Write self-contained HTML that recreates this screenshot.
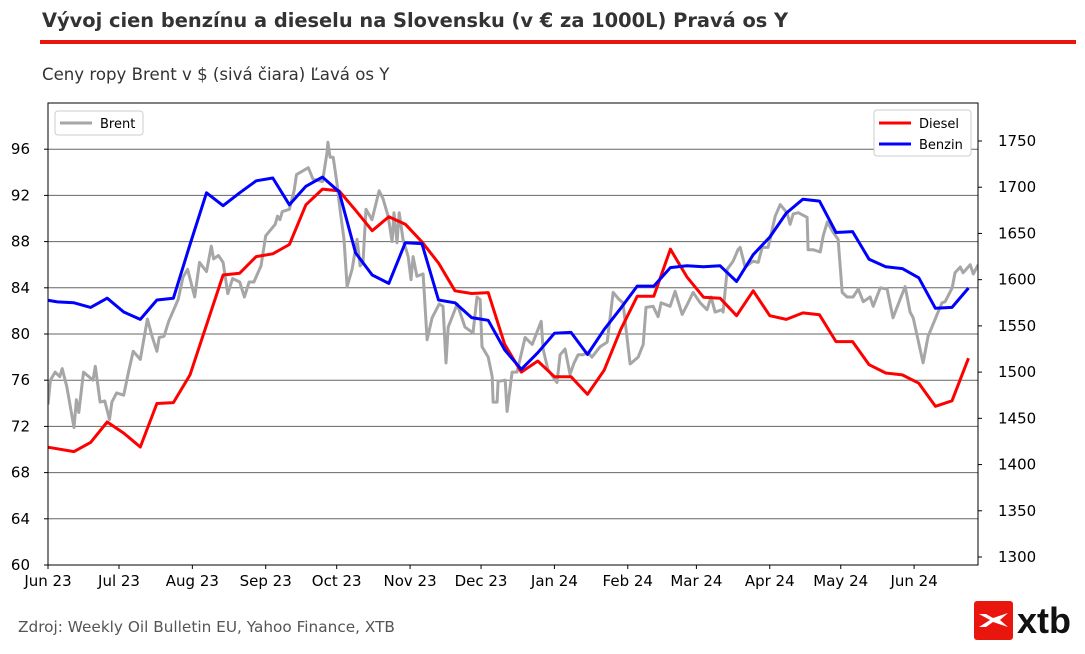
<!DOCTYPE html>
<html><head><meta charset="utf-8">
<style>
body{margin:0;background:#fff;width:1085px;height:650px;overflow:hidden;font-family:"DejaVu Sans","Liberation Sans",sans-serif;}
</style></head>
<body>
<svg id="chart" width="1085" height="650" viewBox="0 0 1085 650" xmlns="http://www.w3.org/2000/svg">
<text x="42" y="27" font-size="19.4" font-weight="bold" fill="#333" font-family="DejaVu Sans, sans-serif">Vývoj cien benzínu a dieselu na Slovensku (v € za 1000L) Pravá os Y</text>
<rect x="40" y="40" width="1036" height="4" fill="#e8160c"/>
<text x="42" y="80" font-size="16.6" fill="#333" font-family="DejaVu Sans, sans-serif">Ceny ropy Brent v $ (sivá čiara) Ľavá os Y</text>
<text x="18" y="632" font-size="15.3" fill="#555" font-family="DejaVu Sans, sans-serif">Zdroj: Weekly Oil Bulletin EU, Yahoo Finance, XTB</text>
<g>
<rect x="974" y="601" width="39" height="39" rx="3" fill="#e8160c"/>
<path d="M979 614 L990 620 L979 627 L986 627 L993 622 L1008 627 L1000 620 L1008 613 L993 618 L986 614 Z" fill="#fff"/>
<text x="1017" y="633" font-size="36" font-weight="bold" fill="#111" font-family="Liberation Sans, sans-serif">xtb</text>
</g>
<defs><clipPath id="plotclip"><rect x="48" y="103" width="930" height="462"/></clipPath></defs>
<g id="grid"></g>
<g id="series" clip-path="url(#plotclip)"></g>
<rect x="48" y="103" width="930" height="462" fill="none" stroke="#000" stroke-width="1"/>
<g id="axes"></g>
<g>
<rect x="55" y="111" width="88" height="24" rx="3" fill="#fff" stroke="#ccc"/>
<line x1="60" y1="123" x2="92" y2="123" stroke="#a6a6a6" stroke-width="3"/>
<text x="100" y="128" font-size="13" fill="#000">Brent</text>
</g>
<g>
<rect x="874" y="110" width="97" height="46" rx="3" fill="#fff" stroke="#ccc"/>
<line x1="879" y1="123" x2="911" y2="123" stroke="#ff0000" stroke-width="3"/>
<text x="919" y="128" font-size="13" fill="#000">Diesel</text>
<line x1="879" y1="144" x2="911" y2="144" stroke="#0000ff" stroke-width="3"/>
<text x="919" y="149" font-size="13" fill="#000">Benzin</text>
</g>
</svg>
<script>
const monthLabels=["Jun 23","Jul 23","Aug 23","Sep 23","Oct 23","Nov 23","Dec 23","Jan 24","Feb 24","Mar 24","Apr 24","May 24","Jun 24"];
const monthDays=[0,30,61,92,122,153,183,214,245,274,305,335,366];
const leftTicks=[60,64,68,72,76,80,84,88,92,96];
const rightTicks=[1300,1350,1400,1450,1500,1550,1600,1650,1700,1750];
const weeklyStartDay=-3;
const diesel=[1420,1417,1414,1424,1446,1434,1419,1466,1467,1497,1551,1605,1607,1625,1628,1638,1681,1698,1696,1675,1653,1668,1660,1641,1618,1588,1585,1586,1530,1500,1512,1495,1495,1476,1502,1546,1582,1582,1633,1603,1581,1580,1561,1588,1561,1557,1564,1562,1533,1533,1508,1499,1497,1488,1463,1469,1515];
const benzin=[1579,1576,1575,1570,1580,1565,1557,1578,1580,1638,1694,1680,1694,1707,1710,1681,1701,1711,1695,1629,1605,1596,1640,1639,1578,1575,1559,1556,1524,1503,1521,1542,1543,1519,1546,1569,1593,1593,1613,1615,1614,1615,1598,1627,1646,1672,1687,1685,1651,1652,1622,1614,1612,1602,1569,1570,1591];
const brentDays=[0,1,3,5,6,8,11,12,13,15,19,20,22,24,26,27,29,32,34,36,39,42,44,46,47,49,51,55,57,59,62,64,67,69,70,72,74,76,78,81,83,85,87,90,92,96,97,98,99,102,104,105,110,112,116,117.9,118.3,119.2,120.5,122.1,123.4,125.1,126.4,128.5,130.6,131.9,133.1,134.4,136.9,139.9,141.6,143.7,145.4,146.2,147.5,148.4,150,152.2,153.4,154.3,155.9,158.5,160.2,162.3,165.3,166.9,168.2,169.1,172.9,176.2,179.6,181.3,182.6,183.4,186,187.7,188.1,189.8,190.2,193.2,194,196.1,198.2,201.6,204.6,208.4,209.2,211.3,215.1,216.4,218.5,220.6,222.3,224,226.1,228.2,229.9,233.3,236.3,238.8,241.3,243,246,249.4,251.5,252.7,255.7,257.8,259.1,262.9,265,268,270.5,272.6,275.6,278.5,280.2,281.9,284.9,285.3,287,289.5,291.6,292.5,294.6,298,300.1,301.8,304.3,307.3,309.4,312.3,313.6,314.9,317,320.8,321.2,323.3,326.3,327.6,329.3,331.8,333.9,335.6,337.7,340.2,342.4,344.5,347.4,348.7,351.7,354.6,357.1,360.1,362.2,364.3,365.6,369.8,371.9,375.7,377.8,379.1,382.1,383.3,385.5,386.7,389.7,391,393.1];
const brentVals=[73.9,76.0,76.7,76.3,77.0,75.4,71.9,74.3,73.2,76.7,76.0,77.2,74.1,74.2,72.6,74.1,74.9,74.7,76.7,78.5,77.8,81.3,79.8,78.5,79.7,79.8,81.1,83.0,84.9,85.6,83.2,86.2,85.4,87.6,86.5,86.8,86.2,83.5,84.8,84.5,83.2,84.5,84.5,85.9,88.5,89.5,90.2,89.9,90.6,90.8,92.4,93.8,94.4,93.4,93.2,95.7,96.6,95.3,95.3,93.1,90.8,88.2,84.1,85.6,88.2,85.9,86.2,90.8,89.9,92.4,91.7,90.2,88.0,90.5,87.9,90.5,88.2,86.7,84.7,86.7,85.0,85.2,79.5,81.4,82.6,82.4,77.5,80.6,82.6,80.6,80.1,83.2,83.0,78.9,78.0,76.3,74.1,74.1,75.9,76.0,73.3,76.7,76.7,79.7,79.1,81.1,78.7,76.9,75.8,78.2,78.7,76.5,77.5,78.2,78.2,78.4,78.0,78.9,79.3,83.6,83.0,82.7,77.4,78.0,79.1,82.3,82.4,81.5,82.7,82.4,83.7,81.7,82.7,83.6,82.7,82.1,83.2,81.9,82.1,81.9,85.6,86.3,87.3,87.5,85.8,86.3,86.2,87.5,87.5,90.2,91.2,90.5,89.5,90.4,90.5,90.1,87.3,87.3,87.1,88.5,89.7,88.8,88.2,83.6,83.2,83.2,83.9,82.8,83.2,82.4,84.0,83.9,81.4,83.0,84.1,81.9,81.4,77.5,79.8,81.7,82.7,82.8,84.0,85.3,85.8,85.3,86.0,85.2,86.0];

const NS="http://www.w3.org/2000/svg";
const X0=48,X1=978,Y0=565,Y1=103,DAYS=393;
const xs=d=>X0+d*(X1-X0)/DAYS;
const yL=v=>Y0-(v-60)*(Y0-Y1)/40;
const yR=r=>557-(r-1300)*(557-141)/450;
function mk(tag,attrs,parent){const e=document.createElementNS(NS,tag);for(const k in attrs)e.setAttribute(k,attrs[k]);parent.appendChild(e);return e;}
const grid=document.getElementById('grid'),axes=document.getElementById('axes'),series=document.getElementById('series');
leftTicks.forEach(v=>{
  const y=yL(v);
  if(v>60){const g=mk('line',{x1:X0,x2:X1,y1:y,y2:y,stroke:'#666','stroke-width':1},grid);
  
  }
  mk('line',{x1:X0-4,x2:X0,y1:y,y2:y,stroke:'#000'},axes);
  const t=mk('text',{x:X0-18,y:y+5,'font-size':15,'text-anchor':'end',fill:'#000'},axes);
  t.textContent=v;
  
  
});
rightTicks.forEach(r=>{
  const y=yR(r);
  mk('line',{x1:X1,x2:X1+4,y1:y,y2:y,stroke:'#000'},axes);
  const t=mk('text',{x:X1+20,y:y+5,'font-size':15,fill:'#000'},axes);
  t.textContent=r;
  
  
});
monthDays.forEach((d,i)=>{
  const x=xs(d);
  mk('line',{x1:x,x2:x,y1:Y0,y2:Y0+4,stroke:'#000'},axes);
  const t=mk('text',{x:x,y:Y0+21,'font-size':15,'text-anchor':'middle',fill:'#000'},axes);
  t.textContent=monthLabels[i];
  
  
});
function poly(pts,color,name){
  const p=mk('polyline',{points:pts.map(q=>q[0].toFixed(1)+','+q[1].toFixed(1)).join(' '),fill:'none',stroke:color,'stroke-width':3,'stroke-linejoin':'round'},series);
  
  
}
poly(brentDays.map((d,i)=>[xs(d),yL(brentVals[i])]),'#a6a6a6','brent-line');
poly(diesel.map((v,i)=>[xs(weeklyStartDay+7*i),yR(v)]),'#ff0000','diesel-line');
poly(benzin.map((v,i)=>[xs(weeklyStartDay+7*i),yR(v)]),'#0000ff','benzin-line');
</script>
</body></html>
